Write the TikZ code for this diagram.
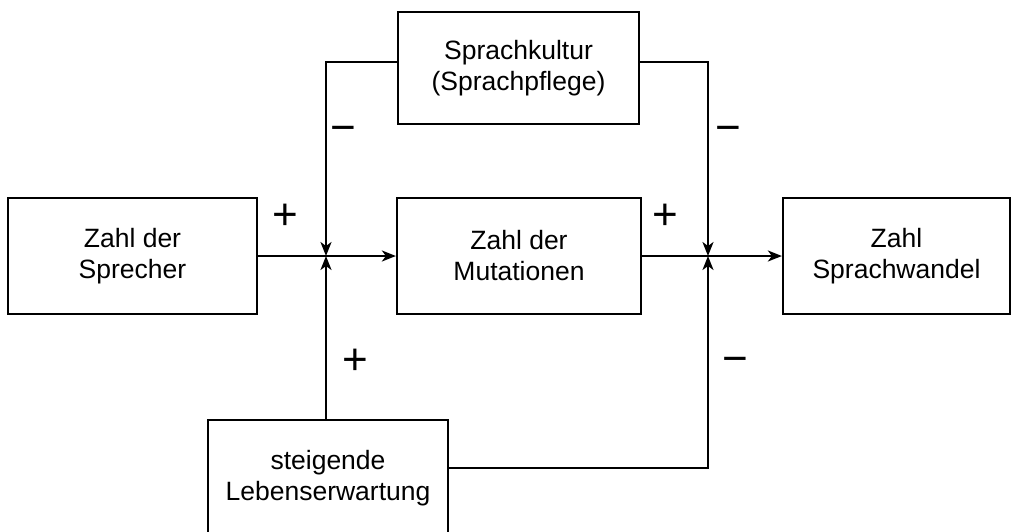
\documentclass[tikz,border=0pt]{standalone}
\usepackage{fontspec}
\setmainfont{Liberation Sans}
\usetikzlibrary{arrows.meta}

\tikzset{
  box/.style={draw, line width=2.2pt, align=center, inner sep=0pt,
    font=\fontsize{26.5}{31}\selectfont},
  arr/.style={line width=2.2pt, -{Stealth[length=14pt,width=11pt,inset=4pt]}},
  sign/.style={font=\fontsize{44}{44}\selectfont}
}

\begin{document}
\begin{tikzpicture}[x=1pt, y=-1pt]

  \useasboundingbox (0,0) rectangle (1020,531);
  \clip (0,0) rectangle (1020,531);

  % the five boxes
  \node[box, minimum width=241pt, minimum height=112pt] (kultur) at (518.5,68) {Sprachkultur\\(Sprachpflege)};
  \node[box, minimum width=249pt, minimum height=116pt] (sprecher) at (132.5,256) {Zahl der\\Sprecher};
  \node[box, minimum width=244pt, minimum height=116pt] (mutation) at (519,256) {Zahl der\\Mutationen};
  \node[box, minimum width=227pt, minimum height=116pt] (wandel) at (896.5,256) {Zahl\\Sprachwandel};
  \node[box, minimum width=240pt, minimum height=116pt] (leben) at (328,478) {steigende\\Lebenserwartung};

  % junctions on the main line
  \coordinate (j1) at (326,256);
  \coordinate (j2) at (708,256);

  % main line
  \draw[arr] (sprecher.east) -- (mutation.west); %% Sprecher->Mutationen
  \draw[arr] (mutation.east) -- (wandel.west);   %% Mutationen->Sprachwandel

  % feedback from above
  \draw[arr] ([yshift=6pt]kultur.west) -| (j1); %% Kultur->j1
  \draw[arr] ([yshift=6pt]kultur.east) -| (j2); %% Kultur->j2

  % feedback from below
  \draw[arr] (leben.north -| j1) -- (j1);        %% Leben->j1
  \draw[arr] ([yshift=10pt]leben.east) -| (j2); %% Leben->j2

  % signs
  \node[sign] (s1) at (285,217) {+};
  \node[sign] (s2) at (343,134) {−};
  \node[sign] (s3) at (665,217) {+};
  \node[sign] (s4) at (728,134) {−};
  \node[sign] (s5) at (355,362) {+};
  \node[sign] (s6) at (735,365) {−};

\end{tikzpicture}
\end{document}
